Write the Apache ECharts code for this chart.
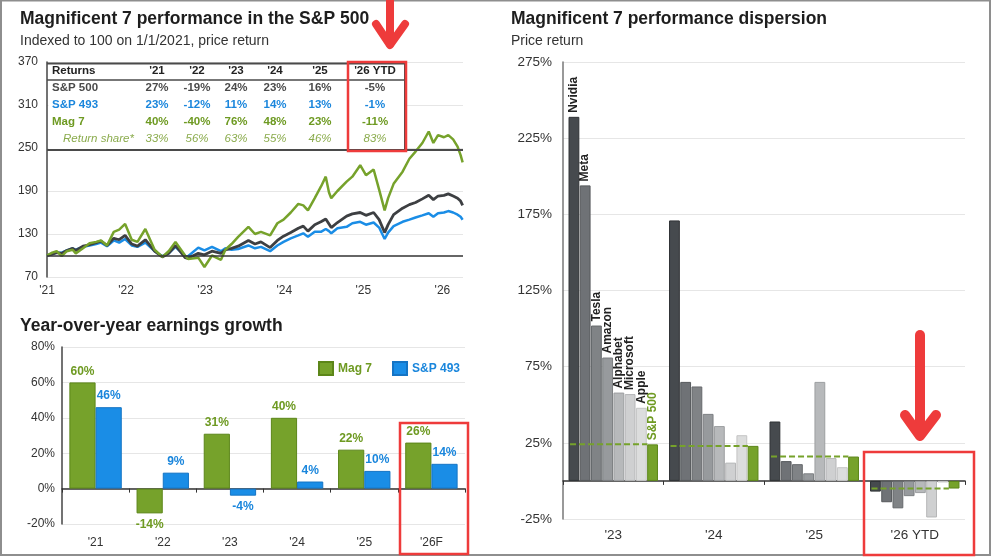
<!DOCTYPE html>
<html>
<head>
<meta charset="utf-8">
<script src="https://cdn.jsdelivr.net/npm/echarts@6/dist/echarts.min.js"></script>
<style>
html, body { margin: 0; padding: 0; background: #fff; }
#chart { width: 991px; height: 557px; }
</style>
</head>
<body>
<div id="chart"></div>
<script>
// ---- Mag 7 performance (indexed to 100 on 1/1/2021) ----
const perfDates = [
  '2021-01-01', '2021-01-25', '2021-02-15', '2021-03-08', '2021-04-01', '2021-04-28', '2021-05-12', '2021-06-15',
  '2021-07-15', '2021-08-15', '2021-09-07', '2021-10-04', '2021-11-05', '2021-11-30', '2021-12-27',
  '2022-01-27', '2022-02-23', '2022-03-29', '2022-05-11', '2022-06-16', '2022-07-15', '2022-08-16',
  '2022-09-30', '2022-10-13', '2022-11-30', '2022-12-28',
  '2023-02-02', '2023-03-13', '2023-04-03', '2023-05-01', '2023-06-01', '2023-07-18', '2023-08-18',
  '2023-09-15', '2023-10-27', '2023-11-30', '2023-12-28',
  '2024-01-31', '2024-03-05', '2024-03-28', '2024-04-19', '2024-05-20', '2024-06-18', '2024-07-10',
  '2024-07-25', '2024-08-05', '2024-09-03', '2024-10-15', '2024-11-11', '2024-12-17',
  '2025-01-13', '2025-02-18', '2025-03-13', '2025-04-08', '2025-04-24', '2025-05-19', '2025-06-30',
  '2025-07-31', '2025-08-29', '2025-09-30', '2025-10-29', '2025-11-20', '2025-12-11',
  '2026-01-08', '2026-01-28', '2026-02-20', '2026-03-10', '2026-03-24', '2026-04-03'
]
const mag7Index = [
  100, 104, 106, 99, 106, 108, 103, 110,
  117, 119, 121, 114, 133, 136, 144,
  122, 119, 137, 108, 98, 106, 119,
  100, 95, 97, 84,
  100, 94, 108, 116, 126, 140, 130,
  133, 128, 145, 150,
  160, 172, 170, 163, 180, 196, 210,
  188, 180, 190, 203, 210, 226,
  212, 220, 192, 163, 180, 200, 217,
  235, 245, 257, 273, 257, 268,
  265, 268, 262, 252, 240, 230
]
const spxIndex = [
  100, 102, 104, 103, 107, 110, 107, 113,
  115, 118, 120, 114, 124, 122, 128,
  116, 113, 122, 106, 98, 103, 114,
  97, 96, 103, 101,
  106, 103, 108, 110, 113, 121, 116,
  119, 111, 121, 127,
  132, 138, 141, 134, 143, 147, 151,
  144, 139, 146, 155, 158, 160,
  156, 160, 150, 132, 143, 157, 166,
  171, 174, 179, 184, 178, 183,
  184, 186, 183, 180, 176, 170
]
const s493Index = [
  100, 102, 104, 104, 107, 110, 108, 112,
  114, 116, 118, 113, 121, 118, 123,
  114, 112, 118, 106, 99, 103, 112,
  99, 99, 111, 107,
  112, 106, 110, 108, 109, 114, 110,
  112, 106, 114, 119,
  124, 128, 131, 126, 133, 133, 137,
  134, 131, 138, 140, 145, 147,
  143, 146, 139, 123, 132, 141, 147,
  150, 153, 156, 159, 154, 159,
  160, 162, 160, 157, 154, 150
]

// ---- returns table ----
const tableCols = ["'21", "'22", "'23", "'24", "'25", "'26 YTD"]
const spxReturns = ['27%', '-19%', '24%', '23%', '16%', '-5%']
const s493Returns = ['23%', '-12%', '11%', '14%', '13%', '-1%']
const mag7Returns = ['40%', '-40%', '76%', '48%', '23%', '-11%']
const returnShare = ['33%', '56%', '63%', '55%', '46%', '83%']

// ---- year-over-year earnings growth ----
const epsYears = ["'21", "'22", "'23", "'24", "'25", "'26F"]
const epsMag7 = [60, -14, 31, 40, 22, 26]
const eps493 = [46, 9, -4, 4, 10, 14]

// ---- performance dispersion ----
const dispYears = ["'23", "'24", "'25", "'26 YTD"]
const dispNames = ['Nvidia', 'Meta', 'Tesla', 'Amazon', 'Alphabet', 'Microsoft', 'Apple', 'S&P 500']
const dispValues = [
  [239, 171, 39, -7],   // Nvidia
  [194, 65, 13, -14],   // Meta
  [102, 62, 11, -18],   // Tesla
  [81, 44, 5, -10],     // Amazon
  [58, 36, 65, -8],     // Alphabet
  [57, 12, 15, -24],    // Microsoft
  [48, 30, 9, -1],      // Apple
  [24, 23, 16, -5]      // S&P 500
]

const FONT = '"Liberation Sans", Arial, sans-serif'
const GREEN = '#76a22b'
const GREEN_TXT = '#6e9a22'
const BLUE = '#1a8de6'
const BLUE_TXT = '#1a86dc'
const DARK = '#3d3f42'
const RED = '#ee3b3b'

function toYear (d) {
  const p = d.split('-').map(Number)
  return p[0] + ((p[1] - 1) * 30.44 + p[2] - 1) / 365.25
}
function pairs (vals) {
  return perfDates.map((d, i) => [toYear(d), vals[i]])
}

const dispFill = ['#464a4e', '#6f7276', '#808386', '#979a9d', '#b7b9bb', '#cfd0d1', '#dcdddd', GREEN]
const dispBorder = ['#2f3235', '#55585b', '#66696c', '#7c7f82', '#9c9ea0', '#b5b6b7', '#c4c5c5', '#5c8619']

const dispSeries = dispNames.map((name, k) => ({
  name: name,
  type: 'bar',
  xAxisIndex: 3,
  yAxisIndex: 2,
  barGap: '4%',
  barCategoryGap: '11%',
  itemStyle: { color: dispFill[k], borderColor: dispBorder[k], borderWidth: 1 },
  data: dispValues[k].map((v, i) => i === 0 ? {
    value: v,
    label: {
      show: true,
      position: 'top',
      rotate: 90,
      align: 'left',
      verticalAlign: 'middle',
      distance: 4,
      formatter: name,
      fontFamily: FONT,
      fontWeight: 'bold',
      fontSize: 12,
      color: k === 7 ? GREEN_TXT : '#222'
    }
  } : v)
}))

// dashed S&P 500 reference inside each year group
const spxDash = []
dispValues[7].forEach((v, i) => {
  spxDash.push([i + 0.07, v], [i + 0.84, v], [i + 0.95, '-'])
})

// table text
const colX = [157, 197, 236, 275, 320, 375]
const rowY = [71, 88, 105, 122, 139]
const tableText = []
function txt (x, y, s, color, weight, style, align) {
  tableText.push({
    type: 'text', x: x, y: y, z: 30,
    style: {
      text: s, fill: color, font: (style || 'normal') + ' ' + (weight || 'bold') + ' 11.5px ' + FONT,
      textAlign: align || 'center', textVerticalAlign: 'middle'
    }
  })
}
txt(52, rowY[0], 'Returns', '#222', 'bold', 'normal', 'left')
txt(52, rowY[1], 'S&P 500', '#4a4a4a', 'bold', 'normal', 'left')
txt(52, rowY[2], 'S&P 493', BLUE_TXT, 'bold', 'normal', 'left')
txt(52, rowY[3], 'Mag 7', GREEN_TXT, 'bold', 'normal', 'left')
txt(63, rowY[4], 'Return share*', '#8aab4c', 'normal', 'italic', 'left')
tableCols.forEach((c, i) => {
  txt(colX[i], rowY[0], c, '#222')
  txt(colX[i], rowY[1], spxReturns[i], '#4a4a4a')
  txt(colX[i], rowY[2], s493Returns[i], BLUE_TXT)
  txt(colX[i], rowY[3], mag7Returns[i], GREEN_TXT)
  txt(colX[i], rowY[4], returnShare[i], '#8aab4c', 'normal', 'italic')
})

const axisLbl = { fontFamily: FONT, fontSize: 12, color: '#333' }
const axisLblR = { fontFamily: FONT, fontSize: 13.5, color: '#333' }
const gridLine = { lineStyle: { color: '#e6e6e6', width: 1 } }
const titleStyle = { fontFamily: FONT, fontSize: 17.5, fontWeight: 'bold', color: '#1e1e1e' }
const subStyle = { fontFamily: FONT, fontSize: 14, fontWeight: 'normal', color: '#333' }

const option = {
  backgroundColor: '#fff',
  animation: false,
  textStyle: { fontFamily: FONT },
  title: [
    { text: 'Magnificent 7 performance in the S&P 500', left: 20, top: 10, padding: 0, textStyle: titleStyle },
    { text: 'Indexed to 100 on 1/1/2021, price return', left: 20, top: 34, padding: 0, textStyle: subStyle },
    { text: 'Year-over-year earnings growth', left: 20, top: 317, padding: 0, textStyle: titleStyle },
    { text: 'Magnificent 7 performance dispersion', left: 511, top: 10, padding: 0, textStyle: titleStyle },
    { text: 'Price return', left: 511, top: 34, padding: 0, textStyle: subStyle }
  ],
  legend: {
    left: 313, top: 356, itemWidth: 14, itemHeight: 13, itemGap: 20,
    icon: 'rect',
    data: [
      { name: 'Mag 7', textStyle: { color: GREEN_TXT } },
      { name: 'S&P 493', textStyle: { color: BLUE_TXT } }
    ],
    textStyle: { fontFamily: FONT, fontSize: 12, fontWeight: 'bold' }
  },
  grid: [
    { left: 47, top: 62, right: 528, bottom: 280 },
    { left: 62, top: 347, right: 526, bottom: 33 },
    { left: 563, top: 62, right: 26, bottom: 38 }
  ],
  xAxis: [
    {
      gridIndex: 0, type: 'value', min: 2021, max: 2026.26, interval: 1,
      axisLine: { show: false }, axisTick: { show: false }, splitLine: { show: false },
      axisLabel: Object.assign({}, axisLbl, {
        showMaxLabel: false,
        formatter: v => Number.isInteger(v) ? "'" + (v - 2000) : ''
      })
    },
    {
      gridIndex: 1, type: 'category', data: epsYears, position: 'bottom',
      axisLine: { show: false, onZero: false }, axisTick: { show: false },
      axisLabel: Object.assign({}, axisLbl, { margin: 13 })
    },
    {
      gridIndex: 1, type: 'category', data: epsYears, position: 'bottom',
      axisLine: { show: true, onZero: true, lineStyle: { color: '#333', width: 1.5 } },
      axisTick: { show: true, length: 4, lineStyle: { color: '#333' } },
      axisLabel: { show: false }
    },
    {
      gridIndex: 2, type: 'category', data: dispYears, position: 'bottom',
      axisLine: { show: false, onZero: false }, axisTick: { show: false },
      axisLabel: Object.assign({}, axisLblR, { margin: 9 })
    },
    {
      gridIndex: 2, type: 'category', data: dispYears, position: 'bottom',
      axisLine: { show: true, onZero: true, lineStyle: { color: '#333', width: 1.5 } },
      axisTick: { show: true, length: 4, lineStyle: { color: '#333' } },
      axisLabel: { show: false }
    },
    { gridIndex: 2, type: 'value', min: 0, max: 4, show: false }
  ],
  yAxis: [
    {
      gridIndex: 0, type: 'value', min: 70, max: 370, interval: 60,
      axisLine: { show: true, onZero: false, lineStyle: { color: '#444', width: 1.5 } },
      axisTick: { show: false }, splitLine: gridLine,
      axisLabel: Object.assign({}, axisLbl, { margin: 9 })
    },
    {
      gridIndex: 1, type: 'value', min: -20, max: 80, interval: 20,
      axisLine: { show: true, onZero: false, lineStyle: { color: '#444', width: 1.5 } },
      axisTick: { show: false }, splitLine: gridLine,
      axisLabel: Object.assign({}, axisLbl, { margin: 7, formatter: '{value}%' })
    },
    {
      gridIndex: 2, type: 'value', min: -25, max: 275, interval: 50,
      axisLine: { show: true, onZero: false, lineStyle: { color: '#777', width: 1.5 } },
      axisTick: { show: false }, splitLine: gridLine,
      axisLabel: Object.assign({}, axisLblR, { margin: 11, formatter: '{value}%' })
    }
  ],
  series: [
    {
      name: 'S&P 493 index', type: 'line', xAxisIndex: 0, yAxisIndex: 0,
      showSymbol: false, symbol: 'none',
      lineStyle: { color: BLUE, width: 2.5 }, data: pairs(s493Index)
    },
    {
      name: 'S&P 500 index', type: 'line', xAxisIndex: 0, yAxisIndex: 0,
      showSymbol: false, symbol: 'none',
      lineStyle: { color: DARK, width: 2.8 }, data: pairs(spxIndex),
      markLine: {
        silent: true, symbol: 'none', label: { show: false },
        lineStyle: { color: '#333', width: 1.5, type: 'solid' },
        data: [{ yAxis: 100 }]
      }
    },
    {
      name: 'Mag 7 index', type: 'line', xAxisIndex: 0, yAxisIndex: 0,
      showSymbol: false, symbol: 'none',
      lineStyle: { color: GREEN, width: 2.5 }, data: pairs(mag7Index)
    },
    {
      name: 'Mag 7', type: 'bar', xAxisIndex: 1, yAxisIndex: 1,
      barGap: '0%', barCategoryGap: '22%',
      itemStyle: { color: GREEN, borderColor: '#5c8619', borderWidth: 1 },
      label: {
        show: true, position: 'outside', distance: 5, formatter: '{c}%',
        fontFamily: FONT, fontSize: 12, fontWeight: 'bold', color: GREEN_TXT
      },
      data: epsMag7
    },
    {
      name: 'S&P 493', type: 'bar', xAxisIndex: 1, yAxisIndex: 1,
      barGap: '0%', barCategoryGap: '22%',
      itemStyle: { color: BLUE, borderColor: '#1574c4', borderWidth: 1 },
      label: {
        show: true, position: 'outside', distance: 5, formatter: '{c}%',
        fontFamily: FONT, fontSize: 12, fontWeight: 'bold', color: BLUE_TXT
      },
      data: eps493
    }
  ].concat(dispSeries, [
    {
      name: 'S&P 500 level', type: 'line', xAxisIndex: 5, yAxisIndex: 2, z: 5,
      showSymbol: false, symbol: 'none', connectNulls: false,
      lineStyle: { color: GREEN, width: 2, type: [6, 3] },
      data: spxDash
    }
  ]),
  graphic: [
    // page frame
    { type: 'rect', z: 1, shape: { x: 1, y: 0.5, width: 989, height: 554.5 },
      style: { fill: null, stroke: '#8e8e8e', lineWidth: 2 } },
    // returns table
    { type: 'rect', z: 20, shape: { x: 48.5, y: 63, width: 356.5, height: 87 },
      style: { fill: '#fff', stroke: null } },
    { type: 'line', z: 25, shape: { x1: 47, y1: 63.5, x2: 405, y2: 63.5 },
      style: { stroke: '#4a4a4a', lineWidth: 2 } },
    { type: 'line', z: 25, shape: { x1: 405, y1: 63, x2: 405, y2: 150 },
      style: { stroke: '#4a4a4a', lineWidth: 2 } },
    { type: 'line', z: 25, shape: { x1: 47, y1: 80, x2: 405, y2: 80 },
      style: { stroke: '#4a4a4a', lineWidth: 1.5 } },
    { type: 'line', z: 25, shape: { x1: 47, y1: 150, x2: 463, y2: 150 },
      style: { stroke: '#4a4a4a', lineWidth: 2 } }
  ].concat(tableText, [
    // red call-outs
    { type: 'rect', z: 40, shape: { x: 348, y: 62, width: 58, height: 89 },
      style: { fill: null, stroke: RED, lineWidth: 2.5 } },
    { type: 'rect', z: 40, shape: { x: 400, y: 423, width: 68, height: 131 },
      style: { fill: null, stroke: RED, lineWidth: 2.5 } },
    { type: 'rect', z: 40, shape: { x: 864, y: 452, width: 110, height: 103 },
      style: { fill: null, stroke: RED, lineWidth: 2.5 } },
    { type: 'polyline', z: 40, shape: { points: [[390, 0], [390, 44]] },
      style: { fill: null, stroke: RED, lineWidth: 8, lineCap: 'round' } },
    { type: 'polyline', z: 40, shape: { points: [[376, 24], [390, 45], [405, 24]] },
      style: { fill: null, stroke: RED, lineWidth: 8, lineCap: 'round', lineJoin: 'round' } },
    { type: 'polyline', z: 40, shape: { points: [[920, 335], [920, 434]] },
      style: { fill: null, stroke: RED, lineWidth: 10, lineCap: 'round' } },
    { type: 'polyline', z: 40, shape: { points: [[905, 415], [920, 436], [936, 415]] },
      style: { fill: null, stroke: RED, lineWidth: 10, lineCap: 'round', lineJoin: 'round' } }
  ])
}

const myChart = echarts.init(document.getElementById('chart'))
myChart.setOption(option)
</script>
</body>
</html>
